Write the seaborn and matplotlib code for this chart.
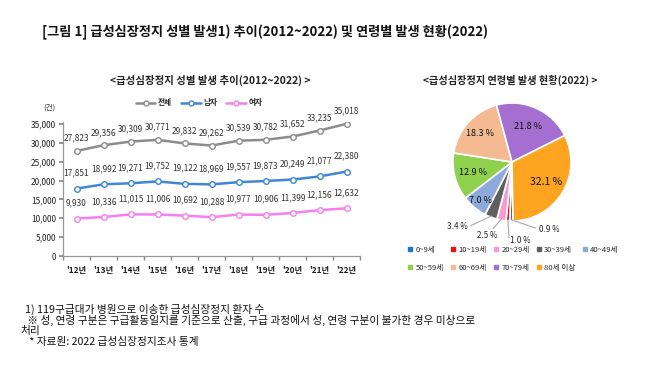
import numpy as np
import pandas as pd
import matplotlib
matplotlib.use("Agg")
import matplotlib.pyplot as plt
import seaborn as sns

sns.set_theme(style="white")
plt.rcParams['font.family'] = ['Noto Sans CJK KR', 'DejaVu Sans']

# ---------------- data ----------------
years = ["'12년", "'13년", "'14년", "'15년", "'16년", "'17년", "'18년", "'19년", "'20년", "'21년", "'22년"]
total = [27823, 29356, 30309, 30771, 29832, 29262, 30539, 30782, 31652, 33235, 35018]
male = [17851, 18992, 19271, 19752, 19122, 18969, 19557, 19873, 20249, 21077, 22380]
female = [9930, 10336, 11015, 11006, 10692, 10288, 10977, 10906, 11399, 12156, 12632]
series_names = ["전체", "남자", "여자"]
yticks = [0, 5000, 10000, 15000, 20000, 25000, 30000, 35000]

age_groups = ["0~9세", "10~19세", "20~29세", "30~39세", "40~49세",
              "50~59세", "60~69세", "70~79세", "80세 이상"]
age_pct = [0.9, 1.0, 2.5, 3.4, 7.0, 12.9, 18.3, 21.8, 32.1]

line_colors = ["#8c8c8c", "#3f86d4", "#f77ff0"]
pie_colors = ["#1f78c8", "#ee1111", "#f79bd0", "#5f5f5f", "#8eaadc",
              "#8fd14f", "#f4bb93", "#a46fd0", "#ffa420"]

footnotes = [
    "1) 119구급대가 병원으로 이송한 급성심장정지 환자 수",
    " ※ 성, 연령 구분은 구급활동일지를 기준으로 산출, 구급 과정에서 성, 연령 구분이 불가한 경우 미상으로",
    "처리",
    " * 자료원: 2022 급성심장정지조사 통계",
]

df = pd.DataFrame({
    "year": years * 3,
    "x": list(range(len(years))) * 3,
    "value": total + male + female,
    "series": [series_names[0]] * len(years) + [series_names[1]] * len(years) + [series_names[2]] * len(years),
})

W, H = 660, 387
fig = plt.figure(figsize=(6.6, 3.87), dpi=100)

# ---------------- title ----------------
fig.text(42 / W, 1 - 32 / H, "[그림 1] 급성심장정지 성별 발생1) 추이(2012~2022) 및 연령별 발생 현황(2022)",
         fontsize=9.5, fontweight='bold', ha='left', va='center', color='#111111')

# ---------------- line chart ----------------
ax = fig.add_axes([63 / W, 1 - 256 / H, 297 / W, 134 / H])
sns.lineplot(data=df, x="x", y="value", hue="series", palette=line_colors, ax=ax,
             marker='o', markersize=4, markerfacecolor='white', markeredgewidth=1.0,
             linewidth=1.8, legend=False)
for ln, c in zip(ax.lines, line_colors):
    ln.set_markeredgecolor(c)

ax.set_xlim(-0.5, len(years) - 0.5)
ax.set_ylim(0, 35500)
ax.set_yticks(yticks)
ax.set_yticklabels([f"{v:,}" for v in yticks], fontsize=6, color='#222222')
ax.set_xticks(range(len(years)))
ax.set_xticklabels(years, fontsize=6, fontweight='bold', color='#222222')
ax.set_xticks(np.arange(-0.5, len(years), 1.0), minor=True)
ax.tick_params(axis='x', which='major', length=0, pad=7)
ax.tick_params(axis='x', which='minor', length=3, color='#888888', direction='out', bottom=True)
ax.tick_params(axis='y', length=3, color='#888888', direction='out', left=True, pad=2)
ax.set_xlabel("")
ax.set_ylabel("")
for s in ["top", "right"]:
    ax.spines[s].set_visible(False)
for s in ["left", "bottom"]:
    ax.spines[s].set_color('#999999')
    ax.spines[s].set_linewidth(0.9)

for vals, off in zip([total, male, female], [6, 8, 8]):
    for i, v in enumerate(vals):
        ax.annotate(f"{v:,}", (i, v), textcoords='offset points', xytext=(0, off),
                    ha='center', va='bottom', fontsize=6, color='#333333', annotation_clip=False)

fig.text(43 / W, 1 - 108 / H, "(건)", fontsize=5.5, ha='left', va='center', color='#333333')
fig.text(210 / W, 1 - 80 / H, "<급성심장정지 성별 발생 추이(2012~2022) >", fontsize=7.5,
         fontweight='bold', ha='center', va='center', color='#222222')

handles = [plt.Line2D([], [], color=c, lw=1.8, marker='o', markersize=3.5,
                      markerfacecolor='white', markeredgecolor=c) for c in line_colors]
leg = fig.legend(handles, series_names, loc='center', bbox_to_anchor=(199 / W, 1 - 103 / H),
                 ncol=3, frameon=False, fontsize=5.5, handlelength=2.6, columnspacing=1.2,
                 handletextpad=0.3)
for t in leg.get_texts():
    t.set_fontweight('bold')

# ---------------- pie chart ----------------
R = 59
cx, cy = 512, 162
side = 2.4 * R
pax = fig.add_axes([(cx - side / 2) / W, 1 - (cy + side / 2) / H, side / W, side / H])
wedges, _ = pax.pie(age_pct, colors=pie_colors, startangle=-89, counterclock=False,
                    wedgeprops=dict(edgecolor='white', linewidth=1.2))
pax.set_xlim(-1.2, 1.2)
pax.set_ylim(-1.2, 1.2)
pax.set_aspect('equal')
pax.axis('off')

inside_r = {4: 0.84, 5: 0.69, 6: 0.72, 7: 0.65, 8: 0.67}
outside_pos = {0: (0.64, -1.15), 1: (0.14, -1.33), 2: (-0.42, -1.24), 3: (-0.92, -1.10)}
line_end = {0: (0.40, -1.12), 1: (-0.05, -1.28), 2: (-0.32, -1.13), 3: (-0.70, -1.08)}
for i, w in enumerate(wedges):
    ang = np.deg2rad((w.theta1 + w.theta2) / 2)
    label = f"{age_pct[i]:.1f} %"
    if i in inside_r:
        r = inside_r[i]
        pax.text(r * np.cos(ang), r * np.sin(ang), label, ha='center', va='center',
                 fontsize=6.5 if i != 8 else 7.5, color='#111111')
    else:
        x0, y0 = 0.98 * np.cos(ang), 0.98 * np.sin(ang)
        lx, ly = line_end[i]
        pax.plot([x0, lx], [y0, ly], color='#aaaaaa', lw=0.8, clip_on=False)
        pax.text(*outside_pos[i], label, ha='center', va='center', fontsize=5.8, color='#222222')

fig.text(510 / W, 1 - 80 / H, "<급성심장정지 연령별 발생 현황(2022) >", fontsize=7.3,
         fontweight='bold', ha='center', va='center', color='#222222')

phandles = [plt.Line2D([], [], lw=0, marker='s', markersize=2.5, color=c) for c in pie_colors]
order = [0, 5, 1, 6, 2, 7, 3, 8, 4]
pleg = fig.legend([phandles[k] for k in order], [age_groups[k] for k in order],
                  loc='upper left', bbox_to_anchor=(405 / W, 1 - 243 / H), ncol=5, frameon=False,
                  fontsize=5.5, handlelength=0.6, handletextpad=0.4, columnspacing=0.9,
                  labelspacing=1.3, borderaxespad=0)

# ---------------- footnotes ----------------
foot_x = [25, 25, 20, 27]
foot_y = [309, 320, 331, 342]
for txt, fx, fy in zip(footnotes, foot_x, foot_y):
    fig.text(fx / W, 1 - fy / H, txt, fontsize=7.7, ha='left', va='center', color='#111111')

fig.savefig("out.png", dpi=100, facecolor='white')
